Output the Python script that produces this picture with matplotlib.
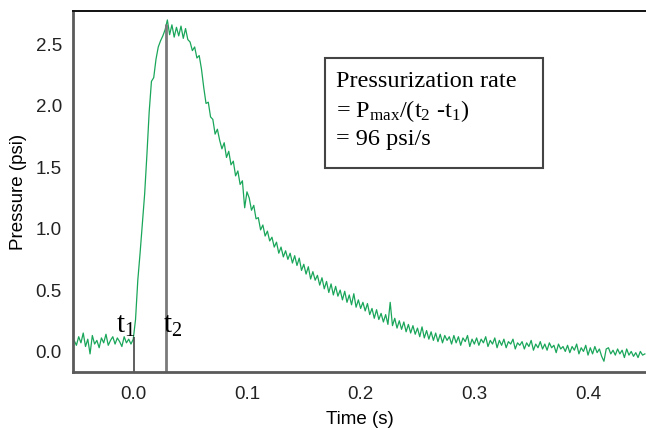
import numpy as np
import matplotlib
matplotlib.use("Agg")
import matplotlib.pyplot as plt
from matplotlib.patches import Rectangle

# pressure trace, sampled every 2 ms starting at t = -0.052 s
t_start = -0.052
t_step = 0.002

baseline = [0.09, 0.05, 0.12, 0.07, 0.15, 0.04, 0.10, -0.02, 0.13, 0.06,
            0.09, 0.03, 0.11, 0.07, 0.14, 0.05, 0.09, 0.12, 0.06, 0.11,
            0.08, 0.04, 0.12, 0.07, 0.10, 0.06]
rise = [0.10, 0.26, 0.58, 0.80, 1.04, 1.28, 1.60, 1.95, 2.20, 2.23,
        2.38, 2.48, 2.53, 2.57, 2.62, 2.70, 2.58, 2.66, 2.56, 2.64,
        2.57, 2.65, 2.55, 2.63, 2.54, 2.52, 2.45, 2.48, 2.39, 2.41,
        2.30]
decay = [2.15, 2.02, 2.03, 1.91, 1.89, 1.77, 1.81, 1.72, 1.65, 1.70,
         1.58, 1.63, 1.52, 1.55, 1.43, 1.47, 1.36, 1.39, 1.17, 1.30,
         1.25, 1.15, 1.19, 1.08, 1.09, 0.99, 1.03, 0.94, 0.98, 0.90,
         0.93, 0.85, 0.89, 0.80, 0.85, 0.77, 0.82, 0.75, 0.80, 0.72,
         0.78, 0.70, 0.76, 0.66, 0.71, 0.63, 0.69, 0.59, 0.65, 0.58,
         0.62, 0.54, 0.60, 0.51, 0.57, 0.48, 0.55, 0.46, 0.53, 0.45,
         0.50, 0.42, 0.49, 0.40, 0.46, 0.38, 0.47, 0.36, 0.42, 0.35,
         0.40, 0.33, 0.39, 0.30, 0.35, 0.27, 0.34, 0.26, 0.31, 0.24,
         0.30, 0.22, 0.40, 0.21, 0.27, 0.19, 0.25, 0.18, 0.24, 0.16,
         0.22, 0.15, 0.21, 0.14, 0.19, 0.12, 0.20, 0.11, 0.17, 0.10,
         0.16, 0.09, 0.15, 0.08, 0.14, 0.07, 0.13, 0.09, 0.12, 0.06,
         0.13, 0.07, 0.12, 0.05, 0.11, 0.08, 0.13, 0.04, 0.10, 0.06,
         0.11, 0.05, 0.10, 0.07, 0.12, 0.04, 0.09, 0.06, 0.11, 0.03,
         0.09, 0.05, 0.10, 0.03, 0.08, 0.06, 0.10, 0.02, 0.07, 0.05,
         0.08, 0.02, 0.07, 0.04, 0.09, 0.01, 0.06, 0.03, 0.08, 0.02,
         0.06, 0.01, 0.07, 0.03, 0.05, -0.01, 0.06, 0.02, 0.04, 0.00,
         0.05, -0.01, 0.04, 0.01, 0.06, -0.02, 0.03, 0.00, 0.05, -0.03,
         0.03, -0.02, 0.04, -0.01, 0.02, -0.04, -0.08, 0.02, 0.03, -0.02,
         0.01, -0.03, 0.02, -0.02, 0.01, -0.05, 0.02, -0.03, 0.00, -0.04,
         -0.01, -0.05, 0.00, -0.03, -0.02]

t1 = 0.0008
t2 = 0.0286
p_max = 2.67
xticks = [0.0, 0.1, 0.2, 0.3, 0.4]
yticks = [0.0, 0.5, 1.0, 1.5, 2.0, 2.5]

pressure = np.array(baseline + rise + decay)
time = t_start + t_step * np.arange(len(pressure))

plt.rcParams['mathtext.fontset'] = 'custom'
plt.rcParams['mathtext.rm'] = 'Liberation Serif'
plt.rcParams['mathtext.it'] = 'Liberation Serif:italic'

fig = plt.figure(figsize=(6.46, 4.30), dpi=100)
ax = fig.add_axes([0.113, 0.1356, 0.887, 0.838])

ax.plot(time, pressure, color='#1aa65a', lw=0.9)
ax.vlines(t1, -0.17, 0.12, color='#444444', lw=1.2)
ax.vlines(t2, -0.17, p_max, color='#7a7a7a', lw=2)

ax.set_xlim(-0.053, 0.451)
ax.set_ylim(-0.165, 2.77)
ax.set_xticks(xticks)
ax.set_yticks(yticks)
ax.set_xticklabels([f"{v:.1f}" for v in xticks])
ax.set_yticklabels([f"{v:.1f}" for v in yticks])
ax.tick_params(length=0, labelsize=13.5, colors='#222222')
ax.tick_params(axis='x', pad=10)
ax.tick_params(axis='y', pad=8)
for lab in ax.get_xticklabels() + ax.get_yticklabels():
    lab.set_family('Liberation Sans')

ax.set_xlabel('Time (s)', fontsize=13.5, family='Liberation Sans', labelpad=6)
ax.set_ylabel('Pressure (psi)', fontsize=13.5, family='Liberation Sans', labelpad=6)

ax.spines['right'].set_visible(False)
ax.spines['top'].set_color('#111111')
ax.spines['top'].set_linewidth(1.4)
for s in ['left', 'bottom']:
    ax.spines[s].set_color('#5a5a5a')
    ax.spines[s].set_linewidth(2)

ax.text(-0.0065, 0.1, r'$\mathrm{t_1}$', fontsize=21, ha='center', va='bottom')
ax.text(0.035, 0.1, r'$\mathrm{t_2}$', fontsize=21, ha='center', va='bottom')

box = Rectangle((0.439, 0.565), 0.382, 0.305, transform=ax.transAxes,
                fill=False, edgecolor='#444444', lw=1.5)
ax.add_patch(box)
serif = 'Liberation Serif'
ax.text(0.459, 0.805, 'Pressurization rate', transform=ax.transAxes,
        fontsize=17.5, family=serif, va='center')
ax.text(0.459, 0.722, r'= P$_{\mathrm{max}}$/(t$_2$ -t$_1$)', transform=ax.transAxes,
        fontsize=17.5, family=serif, va='center')
ax.text(0.459, 0.645, '= 96 psi/s', transform=ax.transAxes,
        fontsize=17.5, family=serif, va='center')

fig.savefig('out.png', dpi=100)
